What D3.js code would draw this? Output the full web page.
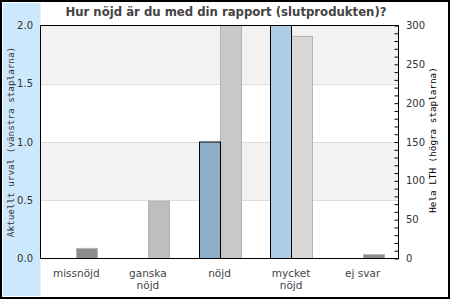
<!DOCTYPE html>
<html><head><meta charset="utf-8">
<script src="https://cdn.jsdelivr.net/npm/d3@7"></script>
<style>body{margin:0;background:#fff}svg{display:block}</style>
</head><body>
<script>
const categories = [["missnöjd"], ["ganska", "nöjd"], ["nöjd"], ["mycket", "nöjd"], ["ej svar"]];
const selectionValues = [0, 0, 1, 2, 0];
const lthValues = [13, 74, 300, 286, 5];
const selectionColors = ["#8eafc9", "#8eafc9", "#8eafc9", "#aecde8", "#8eafc9"];
const lthColors = ["#8c8c8c", "#bebebe", "#c8c8c8", "#d8d8d8", "#8c8c8c"];
const leftTicks = [0, 0.5, 1.0, 1.5, 2.0];
const rightTicks = [0, 50, 100, 150, 200, 250, 300];
const title = "Hur nöjd är du med din rapport (slutprodukten)?";
const leftLabel = "Aktuellt urval (vänstra staplarna)";
const rightLabel = "Hela LTH (högra staplarna)";

const W = 450, H = 300;
const L = 40.5, R = 398.5, T = 25.5, B = 258.5;
const svg = d3.select("body").append("svg").attr("width", W).attr("height", H);

svg.append("rect").attr("x", 3).attr("y", 3).attr("width", 37.5).attr("height", 293).attr("fill", "#cbe8fd");

const keys = categories.map(c => c.join(" "));
const x = d3.scaleBand().domain(keys).range([L, R]);
const yL = d3.scaleLinear().domain([0, 2]).range([B, T]);
const yR = d3.scaleLinear().domain([0, 300]).range([B, T]);

// alternating bands
const bands = [[0.5, 1.0], [1.5, 2.0]];
svg.selectAll(".band").data(bands).join("rect")
  .attr("x", L).attr("width", R - L)
  .attr("y", d => yL(d[1])).attr("height", d => yL(d[0]) - yL(d[1]))
  .attr("fill", "#f2f2f2");
svg.selectAll(".grid").data([0.5, 1.0, 1.5]).join("line")
  .attr("x1", L).attr("x2", R)
  .attr("y1", d => Math.round(yL(d)) + 0.5).attr("y2", d => Math.round(yL(d)) + 0.5)
  .attr("stroke", "#dcdcdc");

const bw = 21;
const cx = i => Math.round(x(keys[i]) + x.bandwidth() / 2);
// LTH bars (right)
svg.selectAll(".lth").data(lthValues.map((v, i) => ({v, i}))).join("rect")
  .attr("x", d => cx(d.i) + 0.5)
  .attr("width", bw)
  .attr("y", d => yR(d.v)).attr("height", d => B - yR(d.v))
  .attr("fill", d => lthColors[d.i]).attr("stroke", "#b4b4b4").attr("stroke-width", 1);
// selection bars (left)
svg.selectAll(".sel").data(selectionValues.map((v, i) => ({v, i})).filter(d => d.v > 0)).join("rect")
  .attr("x", d => cx(d.i) - bw + 0.5)
  .attr("width", bw)
  .attr("y", d => yL(d.v)).attr("height", d => B - yL(d.v))
  .attr("fill", d => selectionColors[d.i]).attr("stroke", "#000").attr("stroke-width", 1);

// frame
svg.append("rect").attr("x", L).attr("y", T).attr("width", R - L).attr("height", B - T)
  .attr("fill", "none").attr("stroke", "#000");

// right minor ticks
const rAxis = d3.axisRight(yR).tickValues(d3.range(0, 301, 10)).tickSize(-4).tickFormat("");
const gR = svg.append("g").attr("transform", `translate(${R},0)`).call(rAxis);
gR.select(".domain").remove();
gR.selectAll("line").attr("stroke", "#000");

// right labels
svg.selectAll(".rl").data(rightTicks).join("text")
  .attr("x", 406).attr("y", d => yR(d) + 3.5)
  .attr("font-family", "DejaVu Sans").attr("font-size", 10).attr("fill", "#333")
  .text(d => d);
// left labels
svg.selectAll(".ll").data(leftTicks).join("text")
  .attr("x", 33).attr("y", d => yL(d) + 3.5).attr("text-anchor", "end")
  .attr("font-family", "DejaVu Sans").attr("font-size", 10).attr("fill", "#333")
  .text(d => d.toFixed(1));

// category labels
categories.forEach((c, i) => {
  const t = svg.append("text")
    .attr("x", x(keys[i]) + x.bandwidth() / 2).attr("y", 277)
    .attr("text-anchor", "middle").attr("font-family", "DejaVu Sans")
    .attr("font-size", 10.5).attr("fill", "#444");
  c.forEach((line, j) => t.append("tspan").attr("x", x(keys[i]) + x.bandwidth() / 2).attr("dy", j ? 12 : 0).text(line));
});

// title
svg.append("text").attr("x", 226).attr("y", 16).attr("text-anchor", "middle")
  .attr("font-family", "DejaVu Sans").attr("font-weight", "bold").attr("font-size", 11.7)
  .attr("fill", "#444").text(title);

// axis titles
svg.append("text").attr("transform", "translate(13.5,142) rotate(-90)")
  .attr("text-anchor", "middle").attr("font-family", "DejaVu Sans Mono")
  .attr("font-size", 9.3).attr("fill", "#333").text(leftLabel);
svg.append("text").attr("transform", "translate(436,140) rotate(-90)")
  .attr("text-anchor", "middle").attr("font-family", "DejaVu Sans Mono")
  .attr("font-size", 9.3).attr("fill", "#000").text(rightLabel);

// outer border
svg.append("rect").attr("x", 1).attr("y", 1).attr("width", 448).attr("height", 297)
  .attr("fill", "none").attr("stroke", "#000").attr("stroke-width", 2);
</script>
</body></html>
